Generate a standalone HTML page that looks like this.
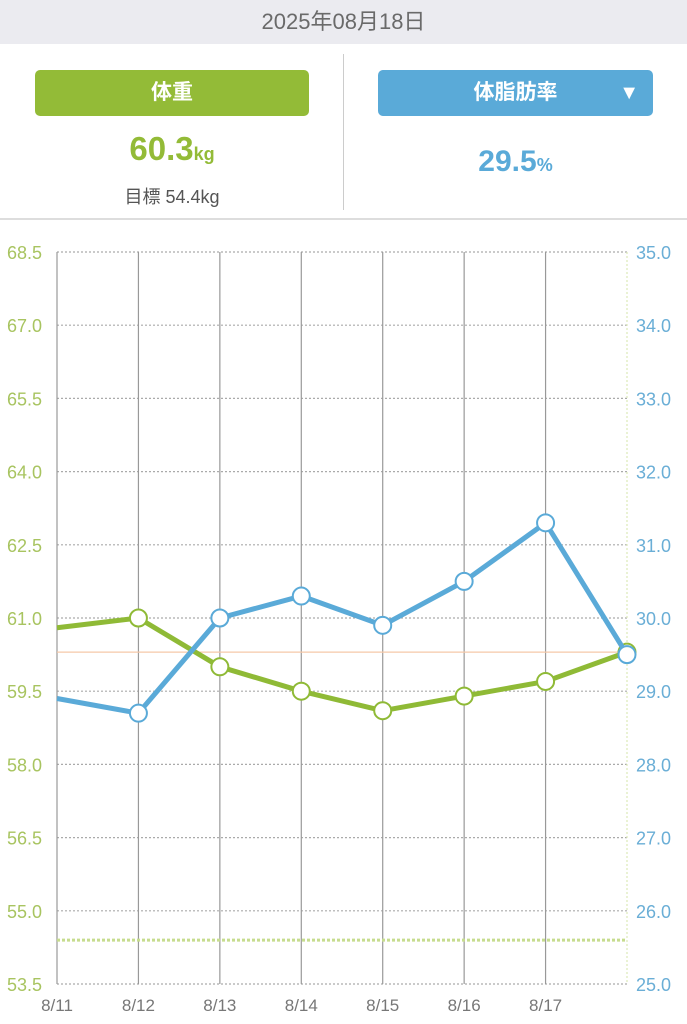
<!DOCTYPE html>
<html><head><meta charset="utf-8"><style>
body{margin:0;width:687px;height:1024px;overflow:hidden;background:#fff;font-family:"Liberation Sans","Noto Sans CJK JP",sans-serif;}
.hdr{position:absolute;left:0;top:0;width:687px;height:44px;background:#ebebf0;color:#6a6a6a;font-size:22px;text-align:center;line-height:44px;}
.btn{position:absolute;top:70px;height:46px;border-radius:5px;color:#fff;font-size:21px;font-weight:bold;text-align:center;line-height:46px;}
</style></head><body>
<div class="hdr">2025年08月18日</div>
<div class="btn" style="left:35px;width:274px;background:#93bb37;">体重</div>
<div class="btn" style="left:378px;width:275px;background:#5aaad8;">体脂肪率<span style="position:absolute;right:14px;top:0;font-size:20px;">▼</span></div>
<div style="position:absolute;left:35px;width:274px;top:130px;text-align:center;color:#93bb37;font-size:33px;font-weight:bold;">60.3<span style="font-size:18px">kg</span></div>
<div style="position:absolute;left:35px;width:274px;top:183px;text-align:center;color:#555;font-size:18px;">目標 54.4kg</div>
<div style="position:absolute;left:378px;width:275px;top:145px;text-align:center;color:#5aaad8;font-size:30px;font-weight:bold;">29.5<span style="font-size:18px">%</span></div>
<div style="position:absolute;left:343px;top:54px;width:1px;height:156px;background:#ccc;"></div>
<div style="position:absolute;left:0;top:218px;width:687px;height:2px;background:#ddd;"></div>
<svg id="chart" width="687" height="1024" style="position:absolute;left:0;top:0"></svg>
<script>
const dates=["8/11","8/12","8/13","8/14","8/15","8/16","8/17","8/18"];
const weight=[60.8,61.0,60.0,59.5,59.1,59.4,59.7,60.3];
const fat=[28.9,28.7,30.0,30.3,29.9,30.5,31.3,29.5];
const leftTicks=["53.5","55.0","56.5","58.0","59.5","61.0","62.5","64.0","65.5","67.0","68.5"];
const rightTicks=["25.0","26.0","27.0","28.0","29.0","30.0","31.0","32.0","33.0","34.0","35.0"];
const targetWeight=54.4, currentWeight=60.3;
const X0=57,X1=627,Y0=252,Y1=984;
const ns="http://www.w3.org/2000/svg",svg=document.getElementById('chart');
const xs=i=>X0+i*(X1-X0)/(dates.length-1);
const yl=v=>Y1-(v-53.5)/(68.5-53.5)*(Y1-Y0);
const yr=v=>Y1-(v-25)/(35-25)*(Y1-Y0);
function mk(t,a,p){const e=document.createElementNS(ns,t);for(const k in a)e.setAttribute(k,a[k]);(p||svg).appendChild(e);return e;}
leftTicks.forEach((t,i)=>{const y=yl(parseFloat(t));
const g=mk('line',{x1:X0,x2:X1,y1:y,y2:y,stroke:'#aaa','stroke-width':1.2,'stroke-dasharray':'2,2'});


const a=mk('text',{x:7,y:y+7,fill:'#a8c460','font-size':18});a.textContent=t;


const b=mk('text',{x:636,y:y+7,fill:'#6aaed6','font-size':18});b.textContent=rightTicks[i];

});
dates.forEach((d,i)=>{const x=xs(i);
const l=mk('line',{x1:x,x2:x,y1:Y0,y2:Y1,stroke:i==7?'#dbe8b8':'#999','stroke-width':1.2,'stroke-dasharray':i==7?'2,2':''});


if(i<7){const t=mk('text',{x:x,y:1011,fill:'#777','font-size':17,'text-anchor':'middle'});t.textContent=d;

}});
const tl=mk('line',{x1:X0,x2:X1,y1:yl(targetWeight),y2:yl(targetWeight),stroke:'#c6dc8e','stroke-width':3,'stroke-dasharray':'3,2'});


const cl=mk('line',{x1:X0,x2:X1,y1:yl(currentWeight),y2:yl(currentWeight),stroke:'#f5c8a8','stroke-width':1.2});


function series(vals,yf,col,name){
const p=mk('polyline',{points:vals.map((v,i)=>xs(i)+','+yf(v)).join(' '),fill:'none',stroke:col,'stroke-width':5,'stroke-linejoin':'round'});


vals.forEach((v,i)=>{if(i==0)return;
const c=mk('circle',{cx:xs(i),cy:yf(v),r:8.5,fill:'#fff',stroke:col,'stroke-width':2});

});}
series(weight,yl,'#8fba36','weight');
series(fat,yr,'#5aaad8','body-fat');
</script>
</body></html>
